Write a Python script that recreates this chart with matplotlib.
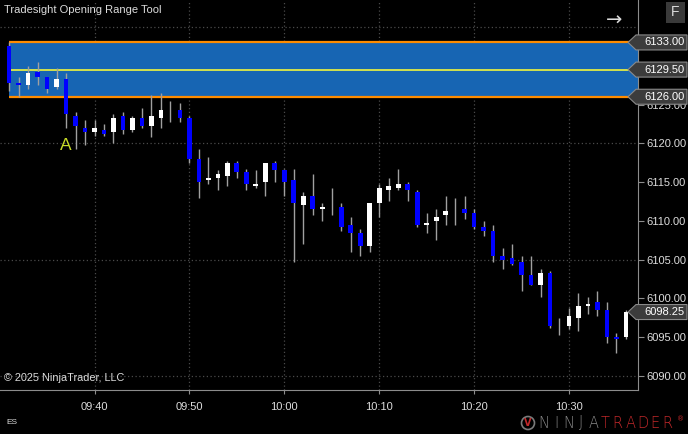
import numpy as np
import matplotlib
matplotlib.use("Agg")
import matplotlib.pyplot as plt
from matplotlib.patches import Polygon, Rectangle, Ellipse
from matplotlib.transforms import blended_transform_factory

# 1-minute ES bars, 09:31 .. 10:36 (minutes after 09:30)
minutes = list(range(1, 67))
opens = [6132.5, 6127.75, 6127.5, 6129.25, 6128.5, 6127.25, 6128.25, 6123.5, 6122, 6121.5,
         6121.75, 6121.5, 6123.5, 6121.75, 6123.25, 6122.25, 6123.25, 6124, 6124.25, 6123.25,
         6118, 6115.25, 6115.5, 6115.75, 6117.5, 6116.25, 6114.5, 6115, 6117.5, 6116.5,
         6115.25, 6112, 6113.25, 6111.5, 6112.5, 6111.75, 6109.5, 6108.5, 6106.75, 6112.25,
         6114, 6114.25, 6114.75, 6113.75, 6109.5, 6110, 6110.75, 6111, 6111.5, 6111,
         6109.25, 6108.75, 6105.5, 6105.25, 6104.75, 6103, 6101.75, 6103.25, 6096.5, 6096.5,
         6097.5, 6099, 6099.5, 6098.5, 6095, 6095]
highs = [6133, 6128.5, 6130, 6130.5, 6128.5, 6129.75, 6129, 6124, 6123, 6123,
         6122.5, 6123.75, 6124, 6123.5, 6124.5, 6126.25, 6126.5, 6125.5, 6125.25, 6123.5,
         6119.25, 6118.25, 6116.5, 6117.75, 6117.75, 6116.75, 6116.5, 6117.5, 6117.75, 6116.75,
         6116.75, 6113.75, 6116, 6112.25, 6114.25, 6112.25, 6110.5, 6109, 6112.25, 6114.75,
         6115.5, 6116.75, 6115, 6114, 6111, 6111.5, 6113.25, 6113, 6113.25, 6111.5,
         6110, 6109.5, 6106.5, 6107, 6105.5, 6105.5, 6103.75, 6103.5, 6097.5, 6098.75,
         6100.75, 6100.25, 6101, 6099.5, 6095.5, 6098.5]
lows = [6126.75, 6126, 6127, 6127.5, 6126.5, 6127, 6122, 6119.25, 6119.75, 6121,
        6121, 6120, 6121.25, 6121.5, 6122, 6120.75, 6122, 6122.75, 6122.75, 6117.5,
        6113, 6114.75, 6114, 6114.5, 6115.5, 6114, 6114.25, 6113.25, 6115, 6113.25,
        6104.75, 6107, 6110.75, 6110, 6110.75, 6108.75, 6106, 6105.5, 6106, 6110.5,
        6112.5, 6114, 6112.5, 6109.25, 6108.5, 6107.5, 6109.5, 6109.5, 6110.25, 6109,
        6108, 6104.75, 6103.75, 6104.25, 6101, 6101.75, 6100.25, 6096.25, 6095.25, 6096,
        6095.75, 6098, 6097.75, 6094.25, 6093, 6094.75]
closes = [6127.75, 6127.5, 6129, 6128.5, 6127, 6128.25, 6123.75, 6122.25, 6121.5, 6122,
          6121.25, 6123.25, 6121.75, 6123.25, 6122.25, 6123.5, 6124.25, 6124, 6123.25, 6118,
          6115, 6115.5, 6116, 6117.5, 6116.25, 6114.75, 6114.75, 6117.5, 6116.5, 6115,
          6112.25, 6113.25, 6111.5, 6111.75, 6112.5, 6109.25, 6108.5, 6106.75, 6112.25, 6114.25,
          6114.5, 6114.75, 6114, 6109.5, 6109.75, 6110.5, 6111.25, 6111, 6111, 6109.25,
          6108.75, 6105.5, 6105, 6104.5, 6103, 6101.75, 6103.25, 6096.5, 6096.5, 6097.75,
          6099, 6099.25, 6098.5, 6095, 6094.75, 6098.25]

# opening range
or_high = 6133.0
or_mid = 6129.5
or_low = 6126.0
last_price = closes[-1]

time_ticks = [10, 20, 30, 40, 50, 60]
time_labels = ["09:40", "09:50", "10:00", "10:10", "10:20", "10:30"]
price_ticks = [6090, 6095, 6100, 6105, 6110, 6115, 6120, 6125]
grid_prices = [6090, 6105, 6120, 6135]

W, H = 688, 434
BG = "black"
TXT = "#dcdcdc"
AXC = "#8c8c8c"
GRID = "#4a4a4a"
FONT = "Liberation Sans"

fig = plt.figure(figsize=(W / 100, H / 100), dpi=100, facecolor=BG)
ax = fig.add_axes([0, 44 / H, 637.5 / W, 390 / H], facecolor=BG)
ax.set_xlim(0.04, 67.22)
ax.set_ylim(6088.2, 6138.47)

for gp in grid_prices:
    ax.axhline(gp, color=GRID, lw=0.9, ls=(0, (1, 2)), zorder=0)
for t in time_ticks:
    ax.axvline(t, color=GRID, lw=0.9, ls=(0, (1, 2)), zorder=0)

# opening range box
x_end = ax.get_xlim()[1]
ax.fill_between([minutes[0], x_end], or_low, or_high, color="#1765b3", lw=0, zorder=1)
ax.hlines([or_high, or_low], minutes[0], x_end, color="#ff8c00", lw=1.6, zorder=2)
ax.hlines(or_mid, minutes[0], x_end, color="#e1eb46", lw=1.3, zorder=2)

# candles
m = np.array(minutes)
o = np.array(opens)
c = np.array(closes)
ax.vlines(m, lows, highs, color="#a0a0a0", lw=1.0, zorder=3)
body_col = np.where(c >= o, "white", "#0000ff")
ax.bar(m, c - o, bottom=o, width=0.5, color=body_col, lw=0, zorder=4)

ax.annotate("A", (minutes[6], lows[6]), xytext=(0, -13), textcoords="offset points",
            ha="center", va="center", color="#c8dc28", fontsize=12.5, family=FONT)

# axes styling
for s in ["top", "left"]:
    ax.spines[s].set_visible(False)
ax.spines["right"].set_color(AXC)
ax.spines["bottom"].set_color(AXC)
ax.yaxis.tick_right()
ax.set_yticks(price_ticks)
ax.set_yticklabels([f"{p:.2f}" for p in price_ticks], family=FONT)
ax.set_xticks(time_ticks)
ax.set_xticklabels(time_labels, family=FONT)
ax.tick_params(axis="y", colors=AXC, labelcolor=TXT, labelsize=8, length=4, pad=2.5)
ax.tick_params(axis="x", colors=AXC, labelcolor=TXT, labelsize=8, length=3, pad=6)

# price tags on the right
tr = blended_transform_factory(fig.transFigure, ax.transData)
hh = 7.5 / 7.757
for v in [or_high, or_mid, or_low, last_price]:
    pts = [(628 / W, v), (636 / W, v + hh), (687 / W, v + hh), (687 / W, v - hh), (636 / W, v - hh)]
    ax.add_patch(Polygon(pts, closed=True, transform=tr, facecolor="#3c3c3c",
                         edgecolor="#8a8a8a", lw=0.8, clip_on=False, zorder=6))
    ax.text(644 / W, v, f"{v:.2f}", transform=tr, color="white", fontsize=8,
            family=FONT, va="center", ha="left", clip_on=False, zorder=7)

# texts
fig.text(4 / W, 1 - 10 / H, "Tradesight Opening Range Tool", color=TXT, fontsize=8,
         family=FONT, va="center")
fig.text(4 / W, 1 - 378 / H, "\u00a9 2025 NinjaTrader, LLC", color=TXT, fontsize=7.8,
         family=FONT, va="center")
fig.text(6 / W, 1 - 423 / H, "ES", color=TXT, fontsize=6, family=FONT, va="center")
fig.text(614 / W, 1 - 20 / H, "\u2192", color=TXT, fontsize=14, ha="center", va="center")
fig.add_artist(Rectangle((666 / W, 1 - 23 / H), 19 / W, 21 / H, transform=fig.transFigure,
                         facecolor="#3a3a3a", lw=0))
fig.text(675.5 / W, 1 - 12.5 / H, "F", color=TXT, fontsize=10, ha="center", va="center",
         family=FONT)

# NinjaTrader logo, letters spread out
fig.add_artist(Ellipse((528 / W, 1 - 423 / H), 13 / W, 13 / H, transform=fig.transFigure,
                       facecolor="none", edgecolor="#7a7a7a", lw=1.2))
fig.text(528 / W, 1 - 423 / H, "V", color="#c0282a", fontsize=7, fontweight="bold",
         ha="center", va="center")
for k, ch in enumerate("NINJATRADER"):
    col = "#8a8a8a" if k < 5 else "#c0282a"
    fig.text((544 + 12.3 * k) / W, 1 - 423 / H, ch, color=col, fontsize=10.5,
             fontweight="light", ha="center", va="center")
fig.text(677 / W, 1 - 419 / H, "\u00ae", color="#c0282a", fontsize=5, va="center")

fig.savefig("out.png", dpi=100, facecolor=BG)
